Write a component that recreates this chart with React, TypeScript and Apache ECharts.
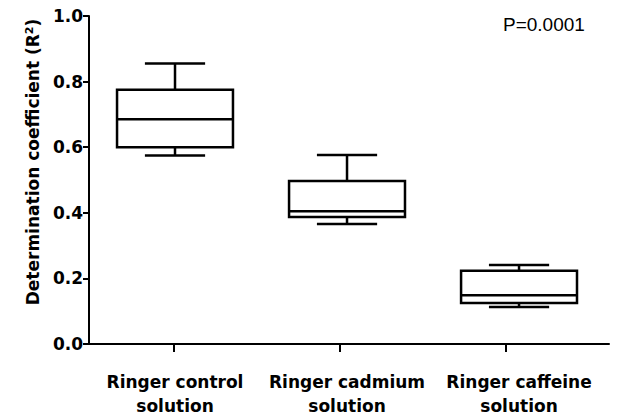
import React, { useEffect, useRef } from "react";
import * as echarts from "echarts";

const categories = ["Ringer control\nsolution", "Ringer cadmium\nsolution", "Ringer caffeine\nsolution"];
const positions = [1, 2, 3];
const tickPositions = [0.99, 1.96, 2.92];
const whiskerMin = [0.575, 0.366, 0.113];
const q1 = [0.6, 0.387, 0.125];
const median = [0.685, 0.405, 0.149];
const q3 = [0.775, 0.497, 0.223];
const whiskerMax = [0.855, 0.576, 0.241];
const yTicks = [0, 0.2, 0.4, 0.6, 0.8, 1.0];
const pValueText = "P=0.0001";

const FONT = "DejaVu Sans";

export default function App() {
  const ref = useRef<HTMLDivElement>(null);
  useEffect(() => {
    if (!ref.current) return;
    const chart = echarts.init(ref.current, null, { renderer: "svg" });
    const data = positions.map((p, i) => [p, whiskerMin[i], q1[i], median[i], q3[i], whiskerMax[i]]);
    const boxW = 0.674;
    const capW = 0.35;
    chart.setOption({
      animation: false,
      backgroundColor: "#ffffff",
      grid: { left: 89, top: 16, right: 15, bottom: 76, outerBoundsMode: "none", containLabel: false },
      xAxis: {
        type: "value",
        min: 0.5,
        max: 3.523,
        splitLine: { show: false },
        axisLine: { show: true, onZero: false, lineStyle: { color: "#000", width: 2 } },
        axisTick: { show: true, customValues: tickPositions, length: 8, lineStyle: { color: "#000", width: 2 } },
        axisLabel: {
          customValues: positions,
          formatter: (v: number) => categories[Math.round(v) - 1] ?? "",
          margin: 26,
          color: "#000",
          fontFamily: FONT,
          fontWeight: "bold",
          fontSize: 17,
          lineHeight: 24,
          align: "center",
        },
      },
      yAxis: {
        type: "value",
        min: 0,
        max: 1,
        interval: 0.2,
        splitLine: { show: false },
        axisLine: { show: true, lineStyle: { color: "#000", width: 2 } },
        axisTick: { show: true, length: 6, lineStyle: { color: "#000", width: 2 } },
        axisLabel: {
          formatter: (v: number) => (yTicks.includes(Math.round(v * 10) / 10) ? v.toFixed(1) : ""),
          margin: 6,
          color: "#000",
          fontFamily: FONT,
          fontWeight: "bold",
          fontSize: 17,
        },
        name: "Determination coefficient (R{sup|2})",
        nameLocation: "middle",
        nameRotate: 90,
        nameGap: 46,
        nameTextStyle: {
          color: "#000",
          fontFamily: FONT,
          fontWeight: "bold",
          fontSize: 17,
          padding: [0, 0, 0, 36],
          rich: {
            sup: { fontSize: 11, fontFamily: FONT, fontWeight: "bold", color: "#000", verticalAlign: "top", padding: [0, 0, 8, 0] },
          },
        },
      },
      graphic: [
        {
          type: "text",
          left: 503,
          top: 15,
          style: { text: pValueText, fill: "#000", font: "normal 19px 'Liberation Sans'" },
        },
      ],
      series: [
        {
          type: "custom",
          data,
          encode: { x: 0, y: [1, 2, 3, 4, 5] },
          renderItem: (params: any, api: any) => {
            const x = api.value(0);
            const pMin = api.coord([x, api.value(1)]);
            const pQ1 = api.coord([x, api.value(2)]);
            const pMed = api.coord([x, api.value(3)]);
            const pQ3 = api.coord([x, api.value(4)]);
            const pMax = api.coord([x, api.value(5)]);
            const halfBox = api.size([boxW, 0])[0] / 2;
            const halfCap = api.size([capW, 0])[0] / 2;
            const cx = pMed[0];
            const st = { stroke: "#000", lineWidth: 2.5, fill: "none" };
            return {
              type: "group",
              children: [
                { type: "rect", shape: { x: cx - halfBox, y: pQ3[1], width: halfBox * 2, height: pQ1[1] - pQ3[1] }, style: { stroke: "#000", lineWidth: 2.5, fill: "#fff" } },
                { type: "line", shape: { x1: cx - halfBox, y1: pMed[1], x2: cx + halfBox, y2: pMed[1] }, style: st },
                { type: "line", shape: { x1: cx, y1: pQ3[1], x2: cx, y2: pMax[1] }, style: st },
                { type: "line", shape: { x1: cx, y1: pQ1[1], x2: cx, y2: pMin[1] }, style: st },
                { type: "line", shape: { x1: cx - halfCap, y1: pMax[1], x2: cx + halfCap, y2: pMax[1] }, style: st },
                { type: "line", shape: { x1: cx - halfCap, y1: pMin[1], x2: cx + halfCap, y2: pMin[1] }, style: st },
              ],
            };
          },
        },
      ],
    });
    return () => chart.dispose();
  }, []);
  return <div ref={ref} style={{ position: "fixed", left: 0, top: 0, width: 624, height: 420 }} />;
}
